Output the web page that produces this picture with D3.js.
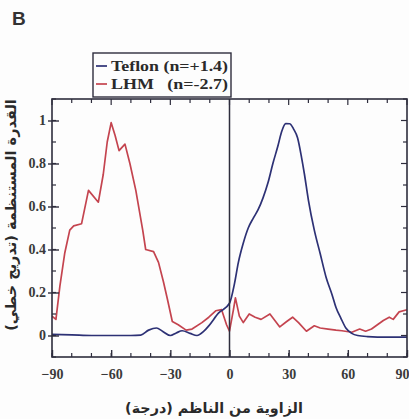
<!DOCTYPE html>
<html>
<head>
<meta charset="utf-8">
<script src="https://cdn.jsdelivr.net/npm/d3@7"></script>
<style>
  html, body { margin: 0; padding: 0; background: #fdfdfd; }
  svg { display: block; }
</style>
</head>
<body>
<svg id="chart" width="409" height="419"></svg>
<script>
// Angular distribution of scattered power (normalised, linear scale)
const teflonAngle = [-90, -80, -70, -60, -50, -45, -41, -37, -34, -30, -27, -24, -20, -16.5, -13, -10.5, -5.5, 0,
  2.5, 4.5, 7, 9.5, 12, 14.5, 17, 19.5, 22, 24.5, 26.5, 28.5, 30.5, 32.5, 34.5, 36.5, 38, 40, 43, 46, 49, 52,
  54, 56.5, 59, 62, 65, 70, 80, 90];
const teflonPower = [0.005, 0.003, 0.0, 0.0, 0.0, 0.002, 0.025, 0.035, 0.02, 0.0, 0.012, 0.022, 0.01, 0.0, 0.02,
  0.045, 0.105, 0.15, 0.24, 0.34, 0.43, 0.5, 0.545, 0.585, 0.64, 0.71, 0.8, 0.88, 0.95, 0.985, 0.985, 0.96, 0.92,
  0.83, 0.75, 0.63, 0.49, 0.38, 0.27, 0.19, 0.13, 0.08, 0.035, 0.01, 0.0, -0.005, -0.008, -0.008];

const lhmAngle = [-90, -88, -86, -83.5, -81, -79, -75, -71.5, -66.5, -64, -62, -60, -58, -56, -53, -50.5, -47.5,
  -44, -42.5, -38.5, -36, -33.5, -31.5, -29, -26, -22, -19, -14, -10.5, -7, -4, -1.5, 0, 2, 3, 5, 7, 10, 13, 16,
  20.5, 23, 25.5, 29, 32, 35, 39, 43, 46, 50, 54, 57, 62, 66, 69, 72, 75, 78, 81, 83, 86, 90];
const lhmPower = [0.09, 0.075, 0.23, 0.385, 0.49, 0.51, 0.52, 0.675, 0.62, 0.75, 0.9, 0.99, 0.93, 0.86, 0.89,
  0.8, 0.675, 0.49, 0.4, 0.39, 0.34, 0.25, 0.17, 0.065, 0.05, 0.025, 0.03, 0.06, 0.085, 0.115, 0.12, 0.05, 0.02,
  0.12, 0.175, 0.09, 0.06, 0.1, 0.085, 0.075, 0.1, 0.07, 0.04, 0.065, 0.085, 0.06, 0.02, 0.045, 0.035, 0.03,
  0.025, 0.022, 0.015, 0.03, 0.02, 0.03, 0.05, 0.07, 0.085, 0.075, 0.11, 0.12];

const xTicks = [-90, -60, -30, 0, 30, 60, 90];
const yTicks = [0, 0.2, 0.4, 0.6, 0.8, 1];
const yTickLabels = ["0", "0.2", "0.4", "0.6", "0.8", "1"];
const legendLabels = ["Teflon (n=+1.4)", "LHM   (n=-2.7)"];
const seriesColors = ["#2d3175", "#c4444f"];

const svg = d3.select("#chart");
const plotLeft = 52, plotRight = 407, plotTop = 99, plotBottom = 357;

const x = d3.scaleLinear().domain([-90, 90]).range([plotLeft, plotRight]);
const y = d3.scaleLinear().domain([-0.1, 1.1]).range([plotBottom, plotTop]);

const frameColor = "#2e2d3d";
const serif = "'Liberation Serif', 'DejaVu Serif', serif";

// panel letter
svg.append("text").attr("x", 12).attr("y", 25)
  .attr("font-family", "'Liberation Sans', Arial, sans-serif").attr("font-weight", "bold")
  .attr("font-size", 19).attr("fill", "#333").text("B");

// data curves (clipped to the frame)
svg.append("clipPath").attr("id", "plotClip")
  .append("rect").attr("x", plotLeft).attr("y", plotTop)
  .attr("width", plotRight - plotLeft).attr("height", plotBottom - plotTop);

const plot = svg.append("g").attr("clip-path", "url(#plotClip)");

const teflonData = teflonAngle.map((a, i) => [a, teflonPower[i]]);
const lhmData = lhmAngle.map((a, i) => [a, lhmPower[i]]);

plot.append("path").datum(lhmData)
  .attr("fill", "none").attr("stroke", seriesColors[1]).attr("stroke-width", 1.7)
  .attr("stroke-linejoin", "round")
  .attr("d", d3.line().x(d => x(d[0])).y(d => y(d[1])).curve(d3.curveLinear));

plot.append("path").datum(teflonData)
  .attr("fill", "none").attr("stroke", seriesColors[0]).attr("stroke-width", 1.7)
  .attr("stroke-linejoin", "round")
  .attr("d", d3.line().x(d => x(d[0])).y(d => y(d[1])).curve(d3.curveMonotoneX));

// vertical line at normal incidence
svg.append("line").attr("x1", x(0)).attr("x2", x(0)).attr("y1", plotTop).attr("y2", plotBottom)
  .attr("stroke", frameColor).attr("stroke-width", 1.5);

// axes: major ticks pointing into the frame, minor ticks between
const minorX = d3.range(-90, 91, 10);
const minorY = d3.range(-1, 12, 1).map(v => v / 10);

const bottomAxis = d3.axisBottom(x).tickValues(xTicks).tickSize(-7).tickPadding(12).tickFormat(d3.format("d"));
const gx = svg.append("g").attr("transform", `translate(0,${plotBottom})`).call(bottomAxis);
gx.select(".domain").remove();
gx.selectAll(".tick line").attr("stroke", frameColor).attr("stroke-width", 1.4);
gx.selectAll(".tick text").attr("font-family", serif).attr("font-size", 14).attr("font-weight", "bold")
  .attr("fill", "#3a3a3a");
// keep the last label inside the page edge
gx.selectAll(".tick text").filter(d => d === 90).attr("text-anchor", "end").attr("dx", 2);

const leftAxis = d3.axisLeft(y).tickValues(yTicks).tickSize(-7).tickPadding(6)
  .tickFormat((d, i) => yTickLabels[i]);
const gy = svg.append("g").attr("transform", `translate(${plotLeft},0)`).call(leftAxis);
gy.select(".domain").remove();
gy.selectAll(".tick line").attr("stroke", frameColor).attr("stroke-width", 1.4).attr("x1", -4);
gy.selectAll(".tick text").attr("font-family", serif).attr("font-size", 14).attr("font-weight", "bold")
  .attr("fill", "#3a3a3a");

// minor ticks on all four sides
const ticksG = svg.append("g").attr("stroke", frameColor).attr("stroke-width", 1.2);
minorX.forEach(v => {
  ticksG.append("line").attr("x1", x(v)).attr("x2", x(v)).attr("y1", plotBottom).attr("y2", plotBottom - 4);
  ticksG.append("line").attr("x1", x(v)).attr("x2", x(v))
    .attr("y1", plotTop).attr("y2", plotTop + (v % 30 === 0 ? 6 : 4));
});
minorY.forEach((v, i) => {
  ticksG.append("line").attr("x1", plotLeft).attr("x2", plotLeft + 4).attr("y1", y(v)).attr("y2", y(v));
  ticksG.append("line").attr("x1", plotRight).attr("x2", plotRight - (i % 2 === 1 ? 6 : 4))
    .attr("y1", y(v)).attr("y2", y(v));
});

// frame
svg.append("rect").attr("x", plotLeft).attr("y", plotTop)
  .attr("width", plotRight - plotLeft).attr("height", plotBottom - plotTop)
  .attr("fill", "none").attr("stroke", frameColor).attr("stroke-width", 1.6);

// legend
const lg = svg.append("g");
lg.append("rect").attr("x", 93).attr("y", 53).attr("width", 138).attr("height", 44)
  .attr("fill", "#fdfdfd").attr("stroke", frameColor).attr("stroke-width", 1.4);
legendLabels.forEach((lab, i) => {
  const yy = 66 + i * 18;
  lg.append("line").attr("x1", 96).attr("x2", 107).attr("y1", yy).attr("y2", yy)
    .attr("stroke", seriesColors[i]).attr("stroke-width", 1.7);
  lg.append("text").attr("x", 111).attr("y", yy + 5)
    .attr("font-family", serif).attr("font-size", 15).attr("fill", "#2a2a2a")
    .attr("font-weight", "bold")
    .style("white-space", "pre")
    .attr("textLength", 117).attr("lengthAdjust", "spacingAndGlyphs")
    .text(lab);
});

// axis titles (Arabic)
function fitText(sel, width) {
  const w = sel.node().getComputedTextLength();
  const fs = parseFloat(sel.attr("font-size"));
  if (w > 0) sel.attr("font-size", fs * width / w);
}
const arabic = "'DejaVu Sans', 'Noto Sans', sans-serif";
const xTitle = svg.append("text").attr("x", 214).attr("y", 413)
  .attr("text-anchor", "middle").attr("direction", "rtl")
  .attr("font-family", arabic).attr("font-weight", "bold").attr("font-size", 14).attr("fill", "#2a2a2a")
  .text("الزاوية من الناظم (درجة)");
fitText(xTitle, 178);

const yTitle = svg.append("text").attr("transform", "translate(16,215) rotate(-90)")
  .attr("text-anchor", "middle").attr("direction", "rtl")
  .attr("font-family", arabic).attr("font-weight", "bold").attr("font-size", 14).attr("fill", "#2a2a2a")
  .text("القدرة المستنظمة (تدريج خطي)");
fitText(yTitle, 232);
</script>
</body>
</html>
